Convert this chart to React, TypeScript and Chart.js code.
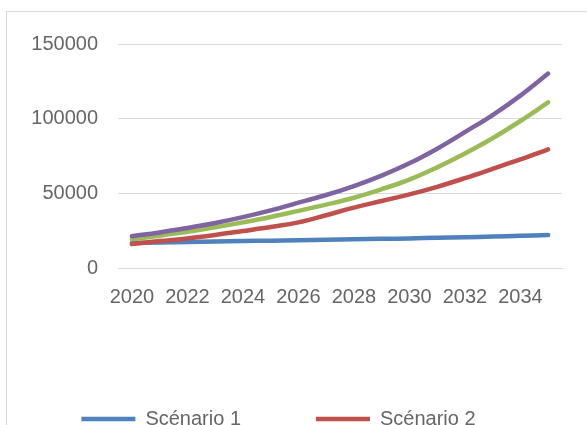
import React, { useEffect, useRef } from "react";
import { Chart, registerables } from "chart.js";

Chart.register(...registerables);

const years = [
  "2020", "2021", "2022", "2023", "2024", "2025", "2026", "2027",
  "2028", "2029", "2030", "2031", "2032", "2033", "2034", "2035",
];
const xTickLabels = ["2020", "2022", "2024", "2026", "2028", "2030", "2032", "2034"];
const yTickValues = [0, 50000, 100000, 150000];

const seriesNames = ["Scénario 1", "Scénario 2", "Scénario 3", "Scénario 4"];
const scenario1 = [17000, 17300, 17600, 17900, 18200, 18500, 18800, 19100, 19400, 19700, 20000, 20400, 20800, 21200, 21700, 22300];
const scenario2 = [16200, 18200, 20000, 22300, 24900, 27600, 30700, 35500, 40600, 45000, 49400, 54500, 60300, 66500, 72800, 79500];
const scenario3 = [19500, 21800, 24400, 27400, 30700, 34300, 38400, 42600, 47200, 52900, 59300, 67500, 76800, 87000, 98500, 110900];
const scenario4 = [21500, 24000, 27000, 30300, 34200, 38700, 43900, 49000, 55000, 62000, 70200, 80000, 91100, 102500, 115500, 130200];
const seriesColors = ["#4F81BD", "#C0504D", "#9BBB59", "#8064A2"];

const TEXT = "#666666";
const GRID = "#d9d9d9";
const FONT = "'Liberation Sans', Arial, sans-serif";

export default function App() {
  const ref = useRef<HTMLCanvasElement>(null);

  useEffect(() => {
    const values = [scenario1, scenario2, scenario3, scenario4];
    const chart = new Chart(ref.current!, {
      type: "line",
      data: {
        labels: years,
        datasets: values.map((d, i) => ({
          label: seriesNames[i],
          data: d,
          borderColor: seriesColors[i],
          backgroundColor: seriesColors[i],
          borderWidth: 4.5,
          borderCapStyle: "round" as const,
          pointRadius: 0,
          tension: 0.4,
          fill: false,
          order: 4 - i,
        })),
      },
      options: {
        animation: false,
        responsive: false,
        devicePixelRatio: 1,
        layout: { padding: { top: 28.7, right: 43, bottom: 0, left: -12 } },
        plugins: {
          tooltip: { enabled: false },
          legend: {
            position: "bottom",
            labels: {
              color: TEXT,
              font: { family: FONT, size: 20 },
              usePointStyle: true,
              pointStyle: "line",
              pointStyleWidth: 54,
              padding: 75,
              sort: (a: any, b: any) => a.datasetIndex - b.datasetIndex,
            },
          },
        },
        scales: {
          x: {
            offset: true,
            grid: { display: false, drawTicks: false },
            border: { color: GRID, width: 1 },
            ticks: {
              autoSkip: false,
              maxRotation: 0,
              minRotation: 0,
              padding: 17,
              color: TEXT,
              font: { family: FONT, size: 20 },
              callback: (_v: any, i: number) =>
                xTickLabels.includes(years[i]) ? years[i] : "",
            },
            afterFit: (s: any) => {
              s.height = 65.7;
            },
          },
          y: {
            min: 0,
            max: 150000,
            grid: { color: GRID, lineWidth: 1, drawTicks: false },
            border: { display: false },
            ticks: {
              padding: 20,
              color: TEXT,
              font: { family: FONT, size: 20 },
              callback: (v: any) => String(v),
            },
            afterBuildTicks: (s: any) => {
              s.ticks = yTickValues.map((v) => ({ value: v }));
            },
            afterFit: (s: any) => {
              s.width = 123;
            },
          },
        },
      },
    });
    return () => chart.destroy();
  }, []);

  return (
    <div
      style={{
        position: "fixed",
        left: 0,
        top: 0,
        width: 587,
        height: 425,
        overflow: "hidden",
        background: "#ffffff",
      }}
    >
      <div
        style={{
          position: "absolute",
          left: 6,
          top: 11,
          width: 600,
          height: 524,
          border: `1px solid ${GRID}`,
          boxSizing: "border-box",
          background: "#ffffff",
        }}
      >
        <canvas ref={ref} width={598} height={522} style={{ display: "block" }} />
      </div>
    </div>
  );
}
